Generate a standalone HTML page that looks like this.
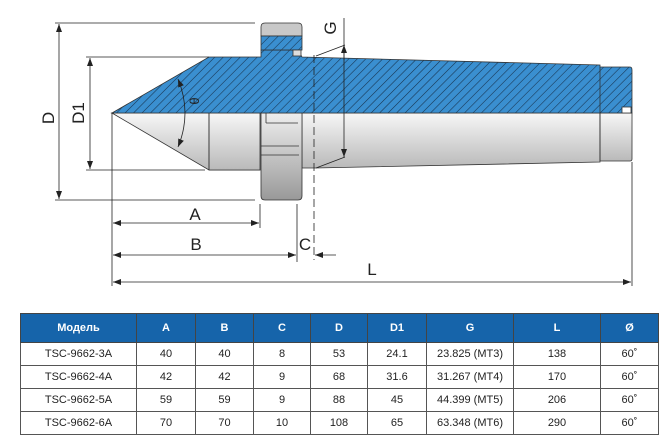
<!DOCTYPE html>
<html><head><meta charset="utf-8"><style>
body{margin:0;width:670px;height:446px;background:#fff;overflow:hidden;font-family:"Liberation Sans",sans-serif}
svg{position:absolute;left:0;top:0}
table{position:absolute;left:20px;top:313px;width:638px;table-layout:fixed;border-collapse:collapse;font-size:11px;color:#222}
td,th{border:1px solid #555;text-align:center;padding:0;height:23px;box-sizing:border-box}
th{background:#1664aa;color:#fff;font-weight:bold;height:29px;border-color:#444}
</style></head><body>
<svg width="670" height="300" viewBox="0 0 670 300">
<defs>
<pattern id="h" patternUnits="userSpaceOnUse" width="6" height="6" patternTransform="rotate(45)">
<rect width="6" height="6" fill="#3a8fd0"/><line x1="0" y1="0" x2="0" y2="6" stroke="#17324d" stroke-width="1.1"/>
</pattern>
<linearGradient id="g" x1="0" y1="0" x2="0" y2="1"><stop offset="0" stop-color="#f7f7f7"/><stop offset="1" stop-color="#b9b9b9"/></linearGradient>
<linearGradient id="g2" x1="0" y1="0" x2="0" y2="1"><stop offset="0" stop-color="#eee"/><stop offset="1" stop-color="#999"/></linearGradient>
<marker id="a" markerWidth="8" markerHeight="6" refX="8" refY="3" orient="auto-start-reverse" markerUnits="userSpaceOnUse"><path d="M0,0L8,3L0,6z" fill="#222"/></marker>
</defs>
<g stroke="#333" stroke-width="0.8">
<path d="M112,113 L209,170 L260,170 L260,113 Z" fill="url(#g)"/>
<path d="M209,113 L260,113 L260,170 L209,170 Z" fill="url(#g)"/>
<path d="M302,113 L600,113 L600,162 L315,168 L302,168 Z" fill="url(#g)"/>
<path d="M600,113 L632,113 L632,159 Q632,161 630,161 L600,161 Z" fill="url(#g)"/>
<path d="M261,113 L302,113 L302,196 Q302,200 298,200 L265,200 Q261,200 261,196 Z" fill="url(#g2)"/>
<line x1="261" y1="146" x2="299" y2="146"/><line x1="261" y1="155" x2="299" y2="155"/>
<line x1="266" y1="113" x2="266" y2="123"/><line x1="266" y1="123" x2="298" y2="123"/>
<path d="M112,113 L209,57 L261,57 L261,50 L298,50 L302,57 L600,65 L600,67 L630,67 Q632,67 632,70 L632,113 Z" fill="url(#h)"/>
<rect x="622" y="107" width="9" height="6" fill="#fff"/>
<path d="M261,36 L261,27 Q261,23 265,23 L298,23 Q302,23 302,27 L302,36 Z" fill="#c8c8c8"/>
<rect x="261" y="36" width="41" height="14" fill="url(#h)"/>
<rect x="293" y="50" width="8" height="6" fill="#ddd"/>
<line x1="209" y1="113" x2="209" y2="170"/>
<line x1="600" y1="67" x2="600" y2="161"/>
</g>
<g stroke="#222" stroke-width="0.8" fill="none">
<line x1="314" y1="55" x2="314" y2="260" stroke-dasharray="8,4"/>
<line x1="55" y1="23" x2="255" y2="23"/><line x1="55" y1="200" x2="255" y2="200"/>
<line x1="86" y1="57" x2="209" y2="57"/><line x1="86" y1="170" x2="205" y2="170"/>
<line x1="112" y1="113" x2="112" y2="286"/>
<line x1="260" y1="204" x2="260" y2="228"/>
<line x1="297" y1="204" x2="297" y2="262"/>
<line x1="632" y1="162" x2="632" y2="286"/>
<line x1="316" y1="56" x2="345" y2="45"/><line x1="316" y1="168" x2="345" y2="157"/>
<line x1="59" y1="24" x2="59" y2="199" marker-start="url(#a)" marker-end="url(#a)"/>
<line x1="90" y1="58" x2="90" y2="169" marker-start="url(#a)" marker-end="url(#a)"/>
<line x1="113" y1="223" x2="259" y2="223" marker-start="url(#a)" marker-end="url(#a)"/>
<line x1="113" y1="255" x2="296" y2="255" marker-start="url(#a)" marker-end="url(#a)"/>
<line x1="315" y1="255" x2="336" y2="255" marker-start="url(#a)"/>
<line x1="113" y1="282" x2="631" y2="282" marker-start="url(#a)" marker-end="url(#a)"/>
<line x1="344" y1="18" x2="344" y2="157" marker-end="url(#a)"/>
<line x1="344" y1="60" x2="344" y2="45" marker-end="url(#a)"/>
<path d="M178,79 Q192,113 178,147" marker-start="url(#a)" marker-end="url(#a)"/>
</g>
<g font-size="17" fill="#222" font-family="Liberation Sans,sans-serif">
<text x="195" y="220" text-anchor="middle">A</text>
<text x="196" y="250" text-anchor="middle">B</text>
<text x="305" y="250" text-anchor="middle">C</text>
<text x="372" y="275" text-anchor="middle">L</text>
<text transform="translate(54,118) rotate(-90)" text-anchor="middle">D</text>
<text transform="translate(84,113) rotate(-90)" text-anchor="middle">D1</text>
<text transform="translate(336,28) rotate(-90)" text-anchor="middle">G</text>
<text transform="translate(199,101) rotate(-90)" text-anchor="middle" font-size="13">θ</text>
</g>
</svg>
<table>
<colgroup><col style="width:116px"><col style="width:59px"><col style="width:58px"><col style="width:57px"><col style="width:57px"><col style="width:59px"><col style="width:87px"><col style="width:87px"><col style="width:58px"></colgroup>
<tr><th>Модель</th><th>A</th><th>B</th><th>C</th><th>D</th><th>D1</th><th>G</th><th>L</th><th>Ø</th></tr>
<tr><td>TSC-9662-3A</td><td>40</td><td>40</td><td>8</td><td>53</td><td>24.1</td><td>23.825 (MT3)</td><td>138</td><td>60˚</td></tr>
<tr><td>TSC-9662-4A</td><td>42</td><td>42</td><td>9</td><td>68</td><td>31.6</td><td>31.267 (MT4)</td><td>170</td><td>60˚</td></tr>
<tr><td>TSC-9662-5A</td><td>59</td><td>59</td><td>9</td><td>88</td><td>45</td><td>44.399 (MT5)</td><td>206</td><td>60˚</td></tr>
<tr><td>TSC-9662-6A</td><td>70</td><td>70</td><td>10</td><td>108</td><td>65</td><td>63.348 (MT6)</td><td>290</td><td>60˚</td></tr>
</table>
</body></html>
